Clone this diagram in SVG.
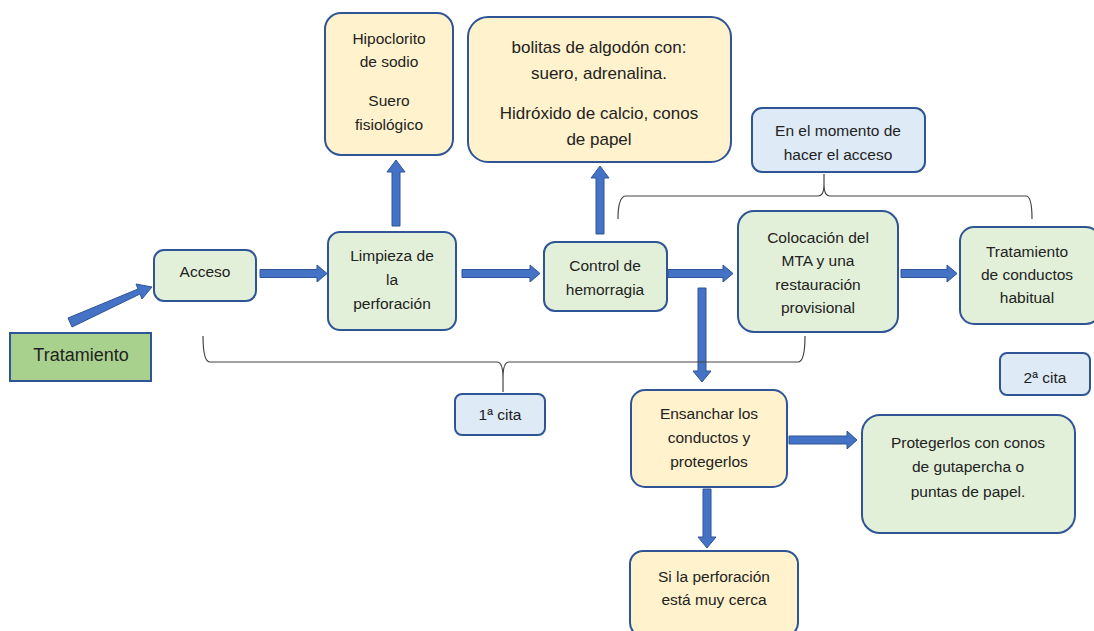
<svg xmlns="http://www.w3.org/2000/svg" width="1094" height="631" viewBox="0 0 1094 631">
<style>
text{font-family:"Liberation Sans",Arial,sans-serif;font-size:15.5px;fill:#222;text-anchor:middle}
.lg{font-size:17px}
.xl{font-size:18px}
.g{fill:#e2f0d9;stroke:#2f5597;stroke-width:2}
.y{fill:#fff2cc;stroke:#2f5597;stroke-width:2}
.b{fill:#deebf7;stroke:#2f5597;stroke-width:2}
.t{fill:#a9d18e;stroke:#2f5597;stroke-width:2}
.ar{fill:#4472c4;stroke:#2f5597;stroke-width:1}
.br{fill:none;stroke:#444;stroke-width:1.2}
</style>
<rect width="1094" height="631" fill="#fff"/>
<g id="connectors">
<polygon class="ar" points="68,318 138,289 136,284 152,287 142,299 140,294 72,327"/>
<polygon class="ar" points="260,269.5 317,269.5 317,265 327,273.5 317,282 317,277.5 260,277.5"/>
<polygon class="ar" points="462,269.5 530,269.5 530,265 540,273.5 530,282 530,277.5 462,277.5"/>
<polygon class="ar" points="668,269.5 723,269.5 723,265 733,273.5 723,282 723,277.5 668,277.5"/>
<polygon class="ar" points="901,269.5 947,269.5 947,265 957,273.5 947,282 947,277.5 901,277.5"/>
<polygon class="ar" points="392,226 392,172 387,172 396,160 405,172 400,172 400,226"/>
<polygon class="ar" points="596,234 596,178 591,178 600,166 609,178 604,178 604,234"/>
<polygon class="ar" points="698,288 698,371 693,371 702,382 711,371 706,371 706,288"/>
<polygon class="ar" points="789,436 847,436 847,431 857,440 847,449 847,444 789,444"/>
<polygon class="ar" points="703,489 703,537 698,537 707,548 716,537 711,537 711,489"/>
<path class="br" d="M203,336 Q203,362 210,362 L497,362 Q503,362 503,378 L503,392 M503,378 Q503,362 509,362 L798,362 Q805,362 805,336"/>
<path class="br" d="M618,219 Q618,196 626,196 L818,196 Q824,196 824,185 L824,174 M824,185 Q824,196 830,196 L1026,196 Q1032,196 1032,219"/>
</g>
<g id="tratamiento"><rect class="t" x="10" y="333" width="141" height="48"/><text class="xl" x="81" y="361">Tratamiento</text></g>
<g id="acceso"><rect class="g" x="154" y="250" width="102" height="51" rx="10"/><text x="205" y="277">Acceso</text></g>
<g id="limpieza"><rect class="g" x="328" y="232" width="128" height="98" rx="12"/><text x="392" y="261">Limpieza de</text><text x="392" y="285">la</text><text x="392" y="309">perforación</text></g>
<g id="control"><rect class="g" x="544" y="242" width="123" height="69" rx="11"/><text x="605" y="271">Control de</text><text x="605" y="295">hemorragia</text></g>
<g id="colocacion"><rect class="g" x="738" y="211" width="160" height="121" rx="16"/><text x="818" y="243">Colocación del</text><text x="818" y="266">MTA y una</text><text x="818" y="290">restauración</text><text x="818" y="313">provisional</text></g>
<g id="habitual"><rect class="g" x="960" y="227" width="140" height="97" rx="14"/><text x="1027" y="257">Tratamiento</text><text x="1027" y="280">de conductos</text><text x="1027" y="303">habitual</text></g>
<g id="hipoclorito"><rect class="y" x="325" y="13" width="128" height="142" rx="16"/><text x="389" y="44">Hipoclorito</text><text x="389" y="67">de sodio</text><text x="389" y="106">Suero</text><text x="389" y="130">fisiológico</text></g>
<g id="bolitas"><rect class="y" x="468" y="17" width="263" height="145" rx="20"/><text class="lg" x="599" y="53">bolitas de algodón con:</text><text class="lg" x="599" y="79">suero, adrenalina.</text><text class="lg" x="599" y="119">Hidróxido de calcio, conos</text><text class="lg" x="599" y="145">de papel</text></g>
<g id="momento"><rect class="b" x="752" y="108" width="173" height="64" rx="10"/><text x="838" y="136">En el momento de</text><text x="838" y="160">hacer el acceso</text></g>
<g id="cita1"><rect class="b" x="455" y="394" width="90" height="41" rx="7"/><text x="500" y="420">1ª cita</text></g>
<g id="cita2"><rect class="b" x="1000" y="353" width="90" height="42" rx="7"/><text x="1045" y="383">2ª cita</text></g>
<g id="ensanchar"><rect class="y" x="631" y="390" width="156" height="97" rx="14"/><text x="709" y="419">Ensanchar los</text><text x="709" y="443">conductos y</text><text x="709" y="467">protegerlos</text></g>
<g id="protegerlos"><rect class="g" x="862" y="415" width="213" height="118" rx="18"/><text x="968" y="448">Protegerlos con conos</text><text x="968" y="472">de gutapercha o</text><text x="968" y="497">puntas de papel.</text></g>
<g id="perforacion"><rect class="y" x="630" y="551" width="168" height="85" rx="13"/><text x="714" y="582">Si la perforación</text><text x="714" y="605">está muy cerca</text></g>
</svg>
